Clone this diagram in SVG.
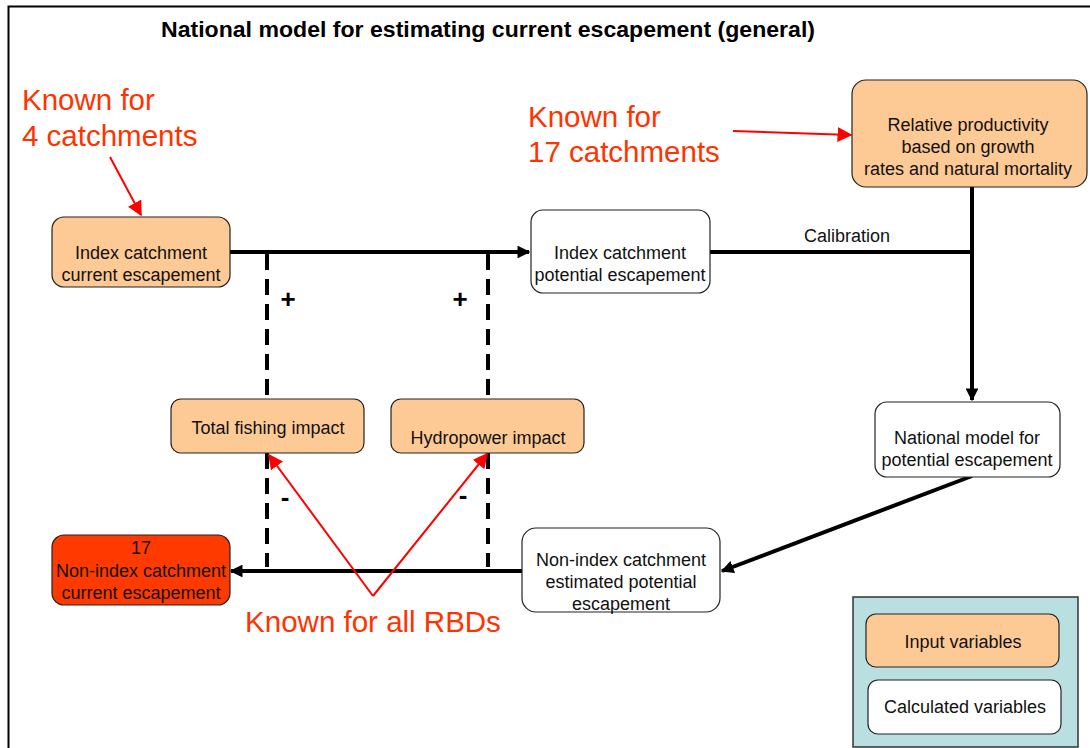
<svg xmlns="http://www.w3.org/2000/svg" width="1090" height="748" viewBox="0 0 1090 748">
<defs>
<style>
.box{stroke:#222;stroke-width:1.2}
.in{fill:#fdca96}
.calc{fill:#fff}
.out{fill:#ff3a00}
.t{font-family:"Liberation Sans",Arial,sans-serif;font-size:18px;fill:#111;text-anchor:middle}
.red{font-family:"Liberation Sans",Arial,sans-serif;font-size:29.5px;fill:#ff3300}
.sym{font-family:"Liberation Sans",Arial,sans-serif;font-size:26px;font-weight:bold;fill:#000;text-anchor:middle}
.ln{stroke:#000;stroke-width:4;fill:none}
.dash{stroke:#000;stroke-width:4;fill:none;stroke-dasharray:16,9}
.rl{stroke:#ff0000;stroke-width:2;fill:none}
</style>
<marker id="ah" viewBox="0 0 10 10" refX="9" refY="5" markerWidth="3.2" markerHeight="3.2" orient="auto" markerUnits="strokeWidth">
<path d="M0,0 L10,5 L0,10 z" fill="#000"/>
</marker>
<marker id="rh" viewBox="0 0 10 10" refX="9" refY="5" markerWidth="7.5" markerHeight="7.5" orient="auto" markerUnits="strokeWidth">
<path d="M0,0 L10,5 L0,10 z" fill="#ff0000"/>
</marker>
</defs>
<rect x="0" y="0" width="1090" height="748" fill="#fff"/>
<rect x="8.5" y="6.5" width="1100" height="760" fill="none" stroke="#000" stroke-width="2"/>
<text x="488" y="37" font-family="'Liberation Sans',Arial,sans-serif" font-size="22" font-weight="bold" text-anchor="middle" fill="#000" textLength="654" lengthAdjust="spacingAndGlyphs">National model for estimating current escapement (general)</text>

<g id="connectors">
<line class="ln" x1="230" y1="252" x2="529" y2="252" marker-end="url(#ah)"/>
<polyline class="ln" points="710,252 972,252"/>
<line class="ln" x1="972" y1="187" x2="972" y2="400" marker-end="url(#ah)"/>
<line class="ln" x1="972" y1="476" x2="722" y2="571" marker-end="url(#ah)"/>
<line class="ln" x1="522" y1="571" x2="231" y2="571" marker-end="url(#ah)"/>
<line class="dash" x1="267" y1="254" x2="267" y2="399"/>
<line class="dash" x1="267" y1="453" x2="267" y2="567"/>
<line class="dash" x1="488" y1="254" x2="488" y2="399"/>
<line class="dash" x1="488" y1="453" x2="488" y2="567"/>
<line class="rl" x1="110" y1="157" x2="141" y2="215" marker-end="url(#rh)"/>
<line class="rl" x1="733" y1="131" x2="851" y2="135" marker-end="url(#rh)"/>
<line class="rl" x1="373" y1="596" x2="269" y2="455" marker-end="url(#rh)"/>
<line class="rl" x1="373" y1="596" x2="487" y2="454" marker-end="url(#rh)"/>
<text x="847" y="242" class="t" font-size="17">Calibration</text>
<text x="288" y="308" class="sym">+</text>
<text x="460" y="308" class="sym">+</text>
<text x="285" y="506" class="sym">-</text>
<text x="463" y="504" class="sym">-</text>
</g>

<g id="label-known4">
<text x="22" y="110" class="red">Known for</text>
<text x="22" y="146" class="red">4 catchments</text>
</g>
<g id="label-known17">
<text x="528" y="127" class="red">Known for</text>
<text x="528" y="162" class="red">17 catchments</text>
</g>
<g id="label-knownall">
<text x="373" y="632" class="red" text-anchor="middle">Known for all RBDs</text>
</g>

<g id="index-current">
<rect class="box in" x="52" y="217" width="178" height="70" rx="12"/>
<text class="t" x="141" y="259">Index catchment</text>
<text class="t" x="141" y="281">current escapement</text>
</g>
<g id="index-potential">
<rect class="box calc" x="531" y="210" width="179" height="83" rx="12"/>
<text class="t" x="620" y="259">Index catchment</text>
<text class="t" x="620" y="281">potential escapement</text>
</g>
<g id="relative-productivity">
<rect class="box in" x="852" y="80" width="235" height="107" rx="14"/>
<text class="t" x="968" y="131">Relative productivity</text>
<text class="t" x="968" y="153">based on growth</text>
<text class="t" x="968" y="175">rates and natural mortality</text>
</g>
<g id="national-model">
<rect class="box calc" x="875" y="402" width="185" height="75" rx="12"/>
<text class="t" x="967" y="444">National model for</text>
<text class="t" x="967" y="466">potential escapement</text>
</g>
<g id="total-fishing">
<rect class="box in" x="171" y="399" width="193" height="54" rx="10"/>
<text class="t" x="268" y="434">Total fishing impact</text>
</g>
<g id="hydropower">
<rect class="box in" x="391" y="399" width="193" height="54" rx="10"/>
<text class="t" x="488" y="444">Hydropower impact</text>
</g>
<g id="non-index-potential">
<rect class="box calc" x="522" y="528" width="198" height="84" rx="14"/>
<text class="t" x="621" y="566">Non-index catchment</text>
<text class="t" x="621" y="588">estimated potential</text>
<text class="t" x="621" y="610">escapement</text>
</g>
<g id="non-index-current">
<rect class="box out" x="52" y="535" width="178" height="70" rx="12"/>
<text class="t" x="141" y="554">17</text>
<text class="t" x="141" y="577">Non-index catchment</text>
<text class="t" x="141" y="599">current escapement</text>
</g>
<g id="legend">
<rect x="853" y="597" width="225" height="150" fill="#b9dfe0" stroke="#333" stroke-width="1.5"/>
<g id="legend-input">
<rect class="box in" x="866" y="614" width="193" height="53" rx="10"/>
<text class="t" x="963" y="648">Input variables</text>
</g>
<g id="legend-calc">
<rect class="box calc" x="868" y="680" width="193" height="54" rx="10"/>
<text class="t" x="965" y="713">Calculated variables</text>
</g>
</g>
</svg>
